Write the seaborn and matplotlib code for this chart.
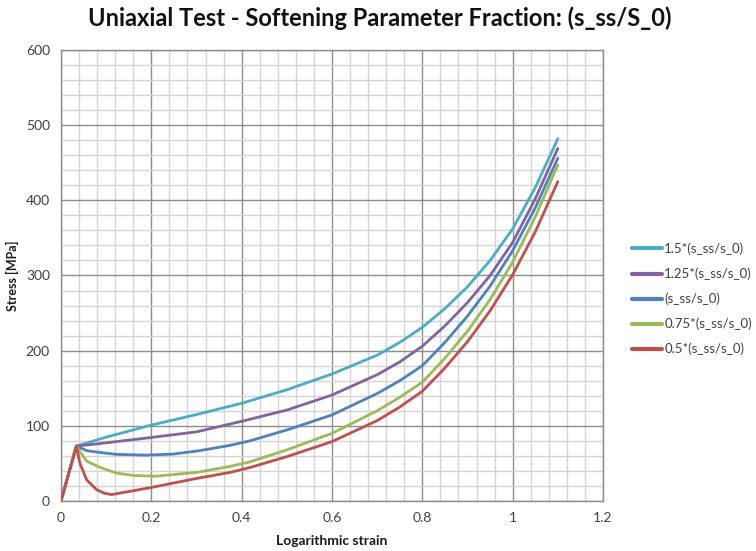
import numpy as np
import pandas as pd
import matplotlib
matplotlib.use("Agg")
import matplotlib.pyplot as plt
import seaborn as sns
from matplotlib.ticker import MultipleLocator

# ---- data ----
labels = ["1.5*(s_ss/s_0)", "1.25*(s_ss/s_0)", "(s_ss/s_0)", "0.75*(s_ss/s_0)", "0.5*(s_ss/s_0)"]
colors = ["#4BACC6", "#8064A2", "#4F81BD", "#9BBB59", "#C0504D"]

strain_150 = [0, 0.034, 0.1, 0.2, 0.3, 0.4, 0.5, 0.6, 0.7, 0.75, 0.8, 0.85, 0.9, 0.95, 1.0, 1.05, 1.1]
stress_150 = [0, 73, 85, 101, 115, 130, 148, 169, 194, 211, 231, 256, 285, 320, 362, 417, 482]

strain_125 = [0, 0.034, 0.087, 0.2, 0.3, 0.4, 0.5, 0.6, 0.7, 0.75, 0.8, 0.85, 0.9, 0.95, 1.0, 1.05, 1.1]
stress_125 = [0, 73, 76.5, 84.5, 92, 106, 121, 141, 168, 185, 206, 233, 264, 300, 344, 402, 469]

strain_100 = [0, 0.034, 0.057, 0.087, 0.124, 0.19, 0.25, 0.307, 0.374, 0.418, 0.5, 0.6, 0.7, 0.75, 0.8, 0.85, 0.9, 0.95, 1.0, 1.05, 1.1]
stress_100 = [0, 73, 67, 64.5, 62, 61, 62.5, 67, 74, 80, 94.5, 114.5, 143, 160, 180, 211, 246, 286, 333, 390, 456]

strain_075 = [0, 0.034, 0.045, 0.057, 0.087, 0.124, 0.16, 0.21, 0.3, 0.374, 0.418, 0.5, 0.6, 0.7, 0.75, 0.8, 0.85, 0.9, 0.95, 1.0, 1.05, 1.1]
stress_075 = [0, 73, 63, 53, 44.5, 37, 34, 33, 38, 46, 52, 68, 90, 120, 138, 158, 190, 226, 268, 318, 378, 447]

strain_050 = [0, 0.034, 0.042, 0.057, 0.079, 0.095, 0.112, 0.2, 0.3, 0.374, 0.418, 0.5, 0.6, 0.7, 0.75, 0.8, 0.85, 0.9, 0.95, 1.0, 1.05, 1.1]
stress_050 = [0, 73, 50, 28, 15, 10.5, 8.5, 18, 30, 38, 44.5, 59, 79, 107, 125, 146, 177, 212, 253, 301, 358, 425]

x_ticks = [0, 0.2, 0.4, 0.6, 0.8, 1, 1.2]
x_tick_labels = ["0", "0.2", "0.4", "0.6", "0.8", "1", "1.2"]
y_ticks = [0, 100, 200, 300, 400, 500, 600]

series = [(strain_150, stress_150), (strain_125, stress_125), (strain_100, stress_100),
          (strain_075, stress_075), (strain_050, stress_050)]
frames = []
for lab, (xs, ys) in zip(labels, series):
    frames.append(pd.DataFrame({"strain": xs, "stress": ys, "case": lab}))
df = pd.concat(frames, ignore_index=True)

# ---- plot ----
sns.set_style("white")
plt.rcParams["font.family"] = ["Lato", "DejaVu Sans"]

fig = plt.figure(figsize=(7.56, 5.51), dpi=100)
ax = fig.add_axes([61 / 756, 1 - 501 / 551, 542 / 756, 451 / 551])

sns.lineplot(data=df, x="strain", y="stress", hue="case", hue_order=labels,
             palette=colors, estimator=None, sort=False, linewidth=2.0, ax=ax,
             zorder=3)

ax.set_xlim(0, 1.2)
ax.set_ylim(0, 600)
ax.set_xticks(x_ticks)
ax.set_xticklabels(x_tick_labels)
ax.set_yticks(y_ticks)
ax.xaxis.set_minor_locator(MultipleLocator(0.04))
ax.yaxis.set_minor_locator(MultipleLocator(20))
ax.grid(which="minor", color="#D4D4D4", linewidth=1.0, zorder=0)
ax.grid(which="major", color="#8C8C8C", linewidth=1.0, zorder=1)
ax.set_axisbelow(True)
ax.tick_params(which="both", length=0, labelsize=10, colors="#404040", pad=8)
for s in ax.spines.values():
    s.set_color("#8C8C8C")
    s.set_linewidth(1.0)

ax.set_xlabel("Logarithmic strain", fontsize=10, fontweight="bold", color="#1a1a1a", labelpad=8)
ax.set_ylabel("Stress [MPa]", fontsize=9, fontweight="bold", color="#1a1a1a", labelpad=5)

fig.text(380 / 756, 1 - 18 / 551, "Uniaxial Test - Softening Parameter Fraction: (s_ss/S_0)",
         ha="center", va="center", fontsize=17, fontweight="bold", color="#111111")

leg = ax.legend(loc="center left", bbox_to_anchor=(632 / 756, 1 - 299 / 551),
                bbox_transform=fig.transFigure, frameon=False, fontsize=9.5,
                handlelength=2.3, handletextpad=0.15, labelspacing=0.95,
                borderpad=0, borderaxespad=0)
for line in leg.get_lines():
    line.set_linewidth(3)
for t in leg.get_texts():
    t.set_color("#404040")

fig.savefig("out.png", dpi=100)
